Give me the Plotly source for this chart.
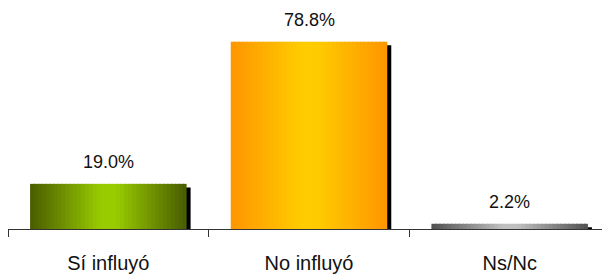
import plotly.graph_objects as go

categories = ["Sí influyó", "No influyó", "Ns/Nc"]
values = [19.0, 78.8, 2.2]
value_labels = ["19.0%", "78.8%", "2.2%"]

# gradient styling (edge colour, centre colour) per bar
edge_colors = [(0x48, 0x5C, 0x00), (0xFF, 0x96, 0x00), (0x50, 0x50, 0x50)]
center_colors = [(0x99, 0xCC, 0x00), (0xFF, 0xCC, 0x00), (0xC0, 0xC0, 0xC0)]

BAR_W = 0.78
N = 40
SHADOW_DX = 0.02
SHADOW_DY = 1.5
FONT = "Liberation Sans, Arial, sans-serif"

fig = go.Figure()

# shadow
fig.add_trace(go.Bar(
    x=categories, y=values, base=[-SHADOW_DY] * len(values),
    offset=-BAR_W / 2 + SHADOW_DX, width=BAR_W,
    marker=dict(color="black", line=dict(width=0)),
    hoverinfo="skip", showlegend=False,
))

sw = BAR_W / N
for i in range(N):
    t = (i + 0.5) / N
    k = 1 - abs(2 * t - 1)
    k = min(1.0, k * 1.1)
    cols = []
    for e, c in zip(edge_colors, center_colors):
        rgb = [round(e[j] + (c[j] - e[j]) * k) for j in range(3)]
        cols.append("rgb(%d,%d,%d)" % tuple(rgb))
    fig.add_trace(go.Bar(
        x=categories, y=values,
        offset=-BAR_W / 2 + i * sw, width=sw * (1.35 if i < N - 1 else 1.0),
        marker=dict(color=cols, line=dict(width=0)),
        hoverinfo="skip", showlegend=False,
    ))

for cat, v, lab in zip(categories, values, value_labels):
    fig.add_annotation(
        x=cat, y=v, text=lab, showarrow=False, yanchor="bottom",
        yshift=10, font=dict(family=FONT, size=18, color="#111"),
    )

fig.update_layout(
    width=610, height=279,
    margin=dict(l=0, r=8, t=19, b=58),
    barmode="overlay",
    paper_bgcolor="white", plot_bgcolor="white",
    showlegend=False,
    xaxis=dict(
        type="category", range=[-0.5, 2.5],
        showline=True, linecolor="#333", linewidth=1,
        ticks="outside", tickson="boundaries", ticklen=7, tickcolor="#333",
        tickfont=dict(family=FONT, size=20, color="#111"),
        ticklabelstandoff=16,
        showgrid=False, zeroline=False,
    ),
    yaxis=dict(range=[0, 85], visible=False, showgrid=False, zeroline=False),
)

fig.write_html("out.html")
